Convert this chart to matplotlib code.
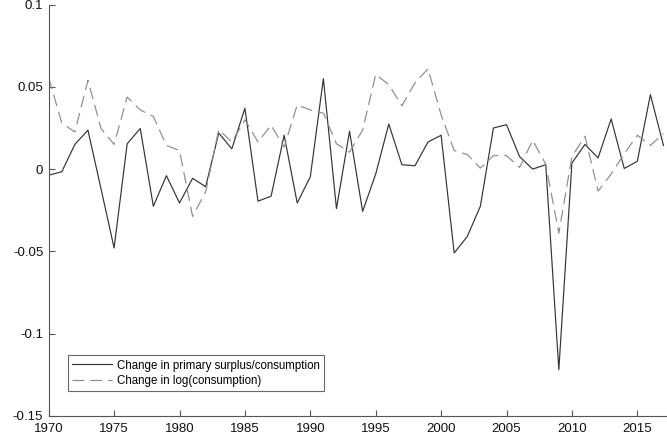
import matplotlib
matplotlib.use("Agg")
import matplotlib.pyplot as plt

years = list(range(1970, 2018))

surplus = [-0.0037, -0.0016, 0.015, 0.0237, -0.012, -0.048, 0.0154, 0.0247, -0.0226, -0.004,
           -0.0206, -0.0056, -0.0107, 0.022, 0.0123, 0.037, -0.0195, -0.0165, 0.0206, -0.0206,
           -0.0047, 0.055, -0.024, 0.023, -0.0257, -0.003, 0.0274, 0.0027, 0.002, 0.0165,
           0.0206, -0.051, -0.041, -0.0226, 0.025, 0.027, 0.0076, 0.0, 0.0027, -0.122,
           0.0037, 0.015, 0.0068, 0.0305, 0.0004, 0.0047, 0.0453, 0.0144]

log_cons = [0.0556, 0.028, 0.0226, 0.054, 0.0247, 0.015, 0.0438, 0.036, 0.032, 0.0144,
            0.0113, -0.0288, -0.0138, 0.024, 0.0165, 0.030, 0.0165, 0.0267, 0.0134, 0.039,
            0.036, 0.034, 0.0154, 0.0103, 0.0237, 0.0576, 0.0514, 0.0385, 0.0525, 0.061,
            0.033, 0.0113, 0.0088, 0.0006, 0.0082, 0.0082, 0.001, 0.0175, 0.003, -0.039,
            0.0076, 0.020, -0.0134, -0.003, 0.0093, 0.0206, 0.0144, 0.0216]

labels = ["Change in primary surplus/consumption", "Change in log(consumption)"]
xticks = list(range(1970, 2016, 5))
yticks = [-0.15, -0.1, -0.05, 0, 0.05, 0.1]
ytick_labels = ["-0.15", "-0.1", "-0.05", "0", "0.05", "0.1"]

plt.rcParams['font.family'] = ['Liberation Sans', 'DejaVu Sans']

fig = plt.figure(figsize=(6.67, 4.41), dpi=100)
ax = fig.add_axes([48.7 / 667, 1 - 415.7 / 441, 1 - 48.7 / 667, (415.7 - 4.7) / 441])

ax.plot(years, surplus, color='#333333', lw=0.85, label=labels[0])
ax.plot(years, log_cons, color='#8c8c8c', lw=0.85, linestyle=(0, (10, 5)), label=labels[1])

ax.set_xlim(1970, 2017.27)
ax.set_ylim(-0.15, 0.1)
ax.set_xticks(xticks)
ax.set_yticks(yticks)
ax.set_yticklabels(ytick_labels)

for s in ['top', 'right']:
    ax.spines[s].set_visible(False)
for s in ['left', 'bottom']:
    ax.spines[s].set_color('#555555')
    ax.spines[s].set_linewidth(0.8)
ax.tick_params(direction='in', length=4, width=0.8, color='#555555', labelsize=9.5,
               labelcolor='#111111')
ax.tick_params(axis='x', pad=5)
ax.tick_params(axis='y', pad=4)

leg = ax.legend(loc='lower left', bbox_to_anchor=((68.3 - 48.7) / 618.3, (415.7 - 391) / 411),
                fontsize=8.3, frameon=True, fancybox=False, handlelength=3.4,
                handletextpad=0.45, borderpad=0.35, labelspacing=0.3, borderaxespad=0)
leg.get_frame().set_edgecolor('#444444')
leg.get_frame().set_linewidth(0.8)

fig.savefig('out.png', dpi=100)
